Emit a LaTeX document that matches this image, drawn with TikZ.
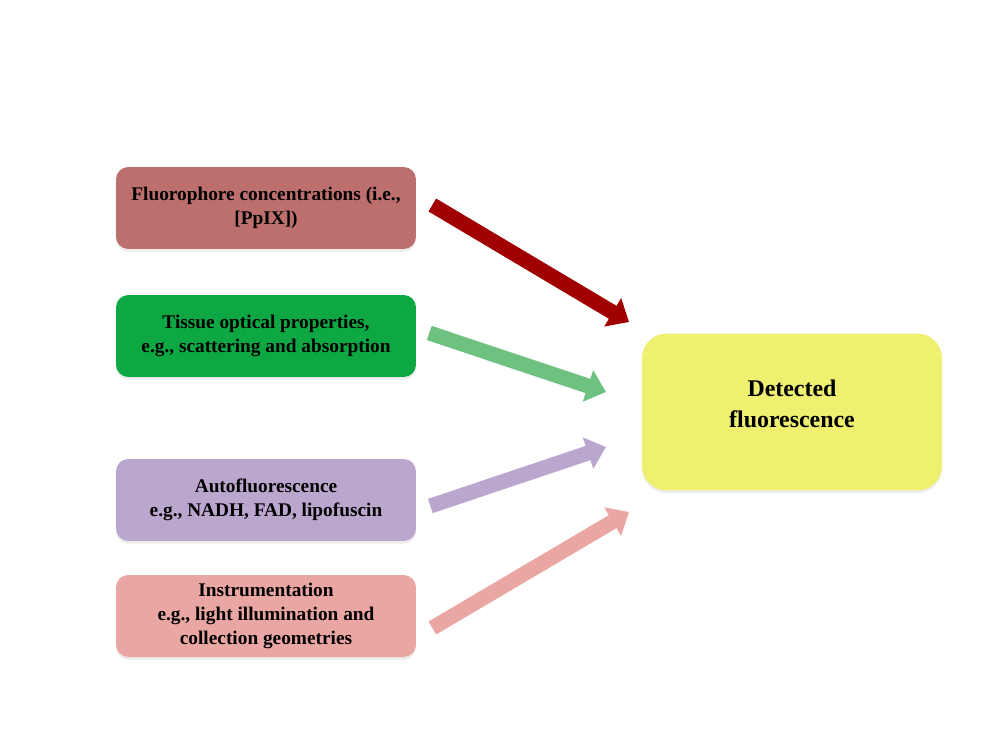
\documentclass[tikz,border=0pt]{standalone}
\usepackage{fontspec}
\setmainfont{Liberation Serif}
\usetikzlibrary{arrows.meta,shadows}
\definecolor{fluorfill}{HTML}{BD6F6E}
\definecolor{tissuefill}{HTML}{0DA843}
\definecolor{autofill}{HTML}{BBA6CE}
\definecolor{instrfill}{HTML}{EAA6A2}
\definecolor{detectfill}{HTML}{EFF070}
\definecolor{fluorarrow}{HTML}{A00000}
\definecolor{tissuearrow}{HTML}{6EC280}
\tikzstyle{factor}=[rectangle,rounded corners=7pt,minimum width=6cm,minimum height=1.64cm,
  align=center,font=\fontsize{11}{13.5}\selectfont\bfseries,
  drop shadow={opacity=0.15,shadow xshift=0pt,shadow yshift=-1.5pt}]
\tikzstyle{result}=[factor,rounded corners=14pt,minimum height=3.14cm,
  font=\fontsize{13.6}{17.6}\selectfont\bfseries]
\tikzstyle{every edge}=[draw,line width=0.3cm,-{Triangle[length=0.38cm,width=0.64cm]}]

\begin{document}
\begin{tikzpicture}[x=0.02cm,y=-0.02cm]
  \useasboundingbox (0,0) rectangle (1000,750);
  \node[factor,fill=fluorfill]   (fluor)  at (266,208) {Fluorophore concentrations (i.e.,\\ {[PpIX])}};
  \node[factor,fill=tissuefill]  (tissue) at (266,336) {Tissue optical properties,\\ e.g., scattering and absorption};
  \node[factor,fill=autofill]    (auto)   at (266,500) {Autofluorescence\\ e.g., NADH, FAD, lipofuscin};
  \node[factor,fill=instrfill]   (instr)  at (266,616) {Instrumentation\\ e.g., light illumination and\\ collection geometries};
  \node[result,fill=detectfill]  (detect) at (792,412) {Detected\\ fluorescence\\[-8.5pt]};

  \coordinate (tipfluor)  at (629,322);
  \coordinate (tiptissue) at (606,392);
  \coordinate (tipauto)   at (606,447);
  \coordinate (tipinstr)  at (629,512);

  \path ([shift={(16,-3)}]fluor.east)  edge[draw=fluorarrow]  (tipfluor)
        ([shift={(13,-3)}]tissue.east) edge[draw=tissuearrow] (tiptissue)
        ([shift={(14,6)}]auto.east)    edge[draw=autofill]    (tipauto)
        ([shift={(16,12)}]instr.east)  edge[draw=instrfill]   (tipinstr);
\end{tikzpicture}
\end{document}
